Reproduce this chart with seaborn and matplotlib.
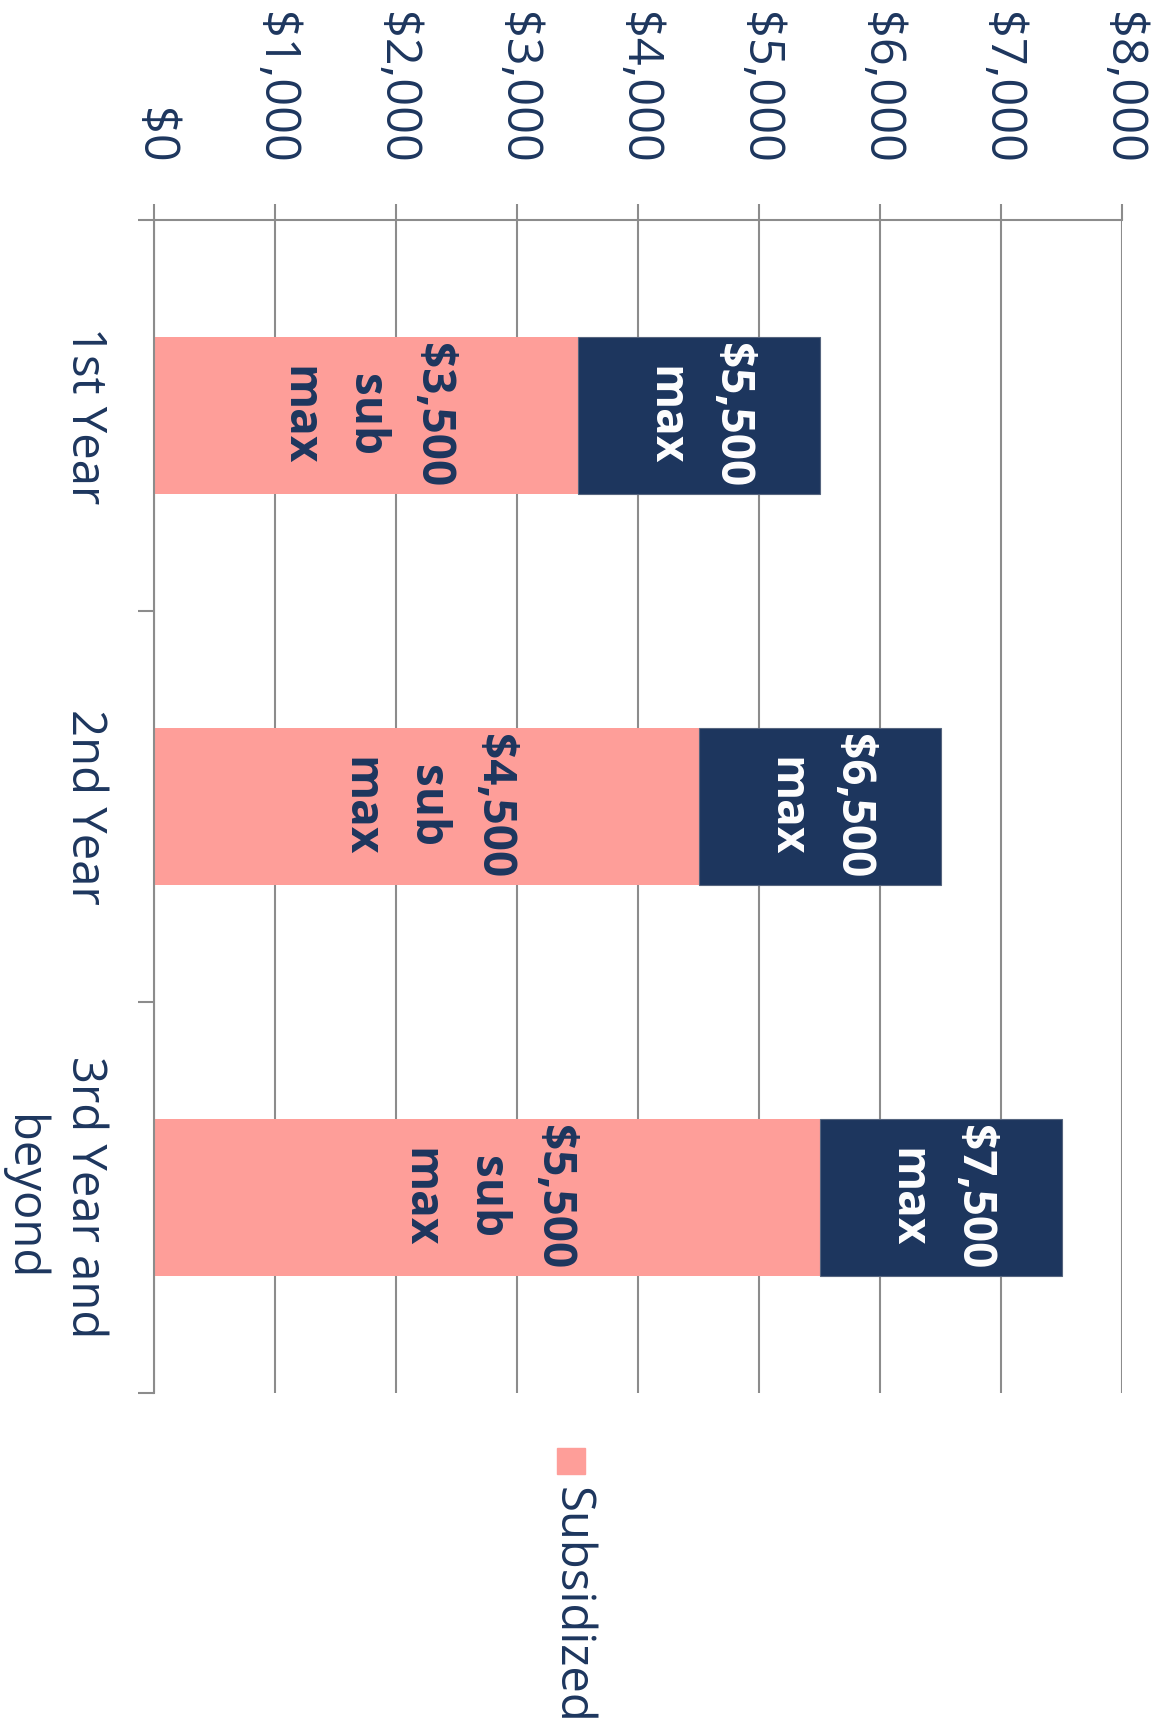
import matplotlib
matplotlib.use("Agg")
import matplotlib.pyplot as plt
from matplotlib.patches import Rectangle
import seaborn as sns
import pandas as pd

# chart data
years = ["1st Year", "2nd Year", "3rd Year and\nbeyond"]
subsidized = [3500, 4500, 5500]
unsubsidized = [2000, 2000, 2000]
totals = [5500, 6500, 7500]
value_ticks = [0, 1000, 2000, 3000, 4000, 5000, 6000, 7000, 8000]
value_tick_labels = ["$0", "$1,000", "$2,000", "$3,000", "$4,000",
                     "$5,000", "$6,000", "$7,000", "$8,000"]
sub_labels = ["$3,500\nsub\nmax", "$4,500\nsub\nmax", "$5,500\nsub\nmax"]
total_labels = ["$5,500\nmax", "$6,500\nmax", "$7,500\nmax"]
legend_label = "Subsidized"

PINK = "#FE9E99"
NAVY = "#1D365E"
GRAY = "#8C8C8C"

sns.set_theme(style="white")
plt.rcParams["font.family"] = ["Open Sans", "DejaVu Sans"]

df = pd.DataFrame({"year": years, "sub": subsidized, "unsub": unsubsidized})

fig = plt.figure(figsize=(11.6, 17.35), dpi=100)
ax = fig.add_axes([0.1328, 0.1971, 0.8345, 0.6761])

# pink part, then navy part stacked on its end
sns.barplot(data=df, y="year", x="sub", color=PINK, saturation=1, width=0.4,
            errorbar=None, linewidth=0, ax=ax)
sns.barplot(data=df, y="year", x="unsub", left=subsidized, color=NAVY,
            saturation=1, width=0.4, errorbar=None, linewidth=0.8,
            edgecolor="#56657f", ax=ax)

ax.bar_label(ax.containers[0], labels=sub_labels, label_type="center",
             rotation=-90, color=NAVY, fontsize=33, fontweight="bold",
             multialignment="center", linespacing=1.55)
ax.bar_label(ax.containers[1], labels=total_labels, label_type="center",
             rotation=-90, color="white", fontsize=33, fontweight="bold",
             multialignment="center", linespacing=1.55)

ax.set_xlim(0, 8000)
ax.set_ylim(2.5, -0.5)
ax.set_xlabel("")
ax.set_ylabel("")

# value axis on top
ax.xaxis.tick_top()
ax.set_xticks(value_ticks, labels=value_tick_labels)
ax.tick_params(axis="x", which="major", top=True, bottom=False, direction="out",
               length=11.5, width=1.5, color=GRAY, pad=29, labelsize=35,
               labelcolor=NAVY, labelrotation=-90)
ax.grid(axis="x", color=GRAY, linewidth=1.5)
ax.grid(axis="y", visible=False)
ax.set_axisbelow(True)

# category axis on the left
ax.set_yticks(range(len(years)), labels=years, rotation=-90, va="center",
              ha="right", multialignment="center", linespacing=1.38)
ax.set_yticks([-0.5, 0.5, 1.5, 2.5], minor=True)
ax.tick_params(axis="y", which="major", left=True, length=0, pad=33,
               labelsize=34, labelcolor=NAVY)
ax.tick_params(axis="y", which="minor", left=True, direction="out",
               length=11.5, width=1.5, color=GRAY)

for side in ["right", "bottom"]:
    ax.spines[side].set_visible(False)
for side in ["top", "left"]:
    ax.spines[side].set_visible(True)
    ax.spines[side].set_color(GRAY)
    ax.spines[side].set_linewidth(1.5)

# legend, turned like the rest of the chart
fig.patches.append(Rectangle((557 / 1160, 1 - 1474 / 1735), 28 / 1160, 26 / 1735,
                             transform=fig.transFigure, color=PINK))
fig.text(571 / 1160, 1 - 1487 / 1735, legend_label, rotation=-90, ha="center",
         va="top", fontsize=34, color=NAVY)

fig.savefig("out.png", dpi=100)
